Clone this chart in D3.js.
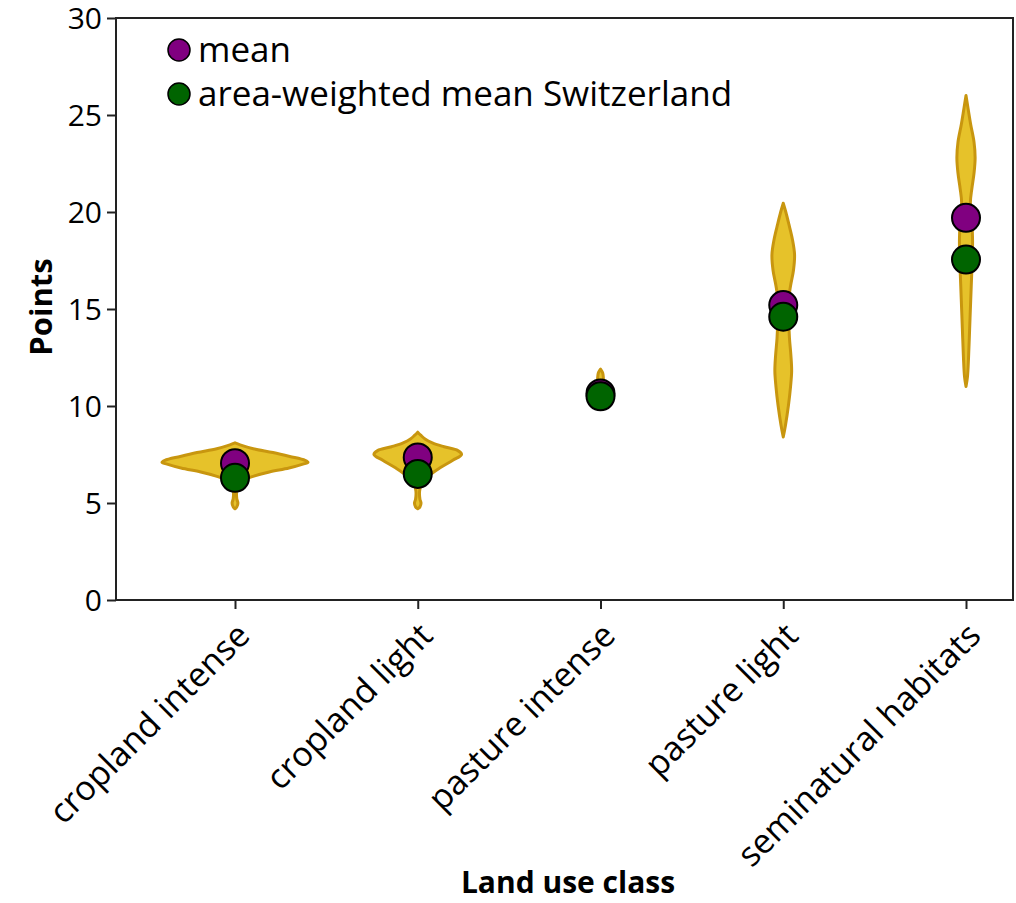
<!DOCTYPE html>
<html>
<head>
<meta charset="utf-8">
<script src="https://cdn.jsdelivr.net/npm/d3@7"></script>
<style>
  body { margin: 0; background: #fff; }
  text { font-family: "Open Sans", "Noto Sans", sans-serif; fill: #000; }
</style>
</head>
<body>
<div id="chart"></div>
<script>
// categories and summary values
var categories = ["cropland intense", "cropland light", "pasture intense", "pasture light", "seminatural habitats"];
var means = [7.05, 7.35, 10.65, 15.2, 19.7];
var weightedMeans = [6.3, 6.5, 10.5, 14.6, 17.55];
var yTicks = [0, 5, 10, 15, 20, 25, 30];

// violin outlines: [points, relative density] per class
var densCroplandIntense = [[4.7,0],[4.8,0.025],[5.0,0.04],[5.2,0.025],[5.5,0.02],[5.8,0.025],[6.0,0.05],[6.2,0.13],[6.4,0.27],[6.6,0.47],[6.8,0.74],[7.0,0.93],[7.1,1.0],[7.2,0.96],[7.4,0.75],[7.6,0.52],[7.8,0.25],[8.0,0.07],[8.1,0]];
var densCroplandLight = [[4.7,0],[4.8,0.03],[5.0,0.045],[5.2,0.03],[5.6,0.025],[6.0,0.05],[6.4,0.15],[6.8,0.3],[7.2,0.48],[7.5,0.6],[7.7,0.55],[7.9,0.36],[8.1,0.2],[8.3,0.1],[8.5,0.04],[8.65,0]];
var densPastureIntense = [[9.9,0],[10.2,0.04],[10.6,0.06],[11.0,0.05],[11.4,0.04],[11.7,0.03],[11.9,0]];
var densPastureLight = [[8.4,0],[9.0,0.03],[10.0,0.07],[11.0,0.1],[11.8,0.115],[12.6,0.105],[13.5,0.085],[14.5,0.075],[15.5,0.075],[16.2,0.1],[17.0,0.14],[17.8,0.155],[18.6,0.125],[19.4,0.075],[20.0,0.035],[20.45,0]];
var densSeminatural = [[11.0,0],[11.5,0.02],[12.5,0.035],[14.0,0.05],[15.5,0.065],[16.5,0.075],[17.5,0.085],[18.5,0.09],[19.5,0.08],[20.5,0.06],[21.2,0.08],[22.0,0.11],[22.8,0.125],[23.6,0.11],[24.5,0.065],[25.3,0.03],[26.0,0]];
var densities = [densCroplandIntense, densCroplandLight, densPastureIntense, densPastureLight, densSeminatural];

var width = 1016, height = 903;
var margin = {top: 18, left: 116, right: 3, bottom: 303};

var svg = d3.select("#chart").append("svg")
    .attr("width", width)
    .attr("height", height);

var xScale = d3.scalePoint()
    .domain(categories)
    .range([235, 966]);

var yScale = d3.scaleLinear()
    .domain([0, 30])
    .range([height - margin.bottom, margin.top]);

// half width of a violin in px for a given relative density
var wScale = d3.scaleLinear().domain([0, 1]).range([0, 73]);

// violins
var area = d3.area()
    .curve(d3.curveCatmullRom)
    .y(function(d) { return yScale(d[0]); });

svg.selectAll(".violin")
    .data(categories)
    .enter()
    .append("path")
    .attr("class", "violin")
    .attr("d", function(c, i) {
        var cx = xScale(c);
        return area
            .x0(function(d) { return cx - wScale(d[1]); })
            .x1(function(d) { return cx + wScale(d[1]); })(densities[i]);
    })
    .attr("fill", "#e6c22a")
    .attr("stroke", "#c8960f")
    .attr("stroke-width", 3)
    .attr("stroke-linejoin", "round");

// frame
svg.append("rect")
    .attr("x", margin.left)
    .attr("y", margin.top)
    .attr("width", width - margin.right - margin.left)
    .attr("height", height - margin.bottom - margin.top)
    .attr("fill", "none")
    .attr("stroke", "#222")
    .attr("stroke-width", 2);

// axes
var yAxis = svg.append("g")
    .attr("transform", `translate(${margin.left}, 0)`)
    .call(d3.axisLeft(yScale).tickValues(yTicks).tickSize(9).tickPadding(5));

var xAxis = svg.append("g")
    .attr("transform", `translate(0, ${height - margin.bottom})`)
    .call(d3.axisBottom(xScale).tickSize(9).tickPadding(6));

svg.selectAll(".domain").remove();
svg.selectAll(".tick line").attr("stroke", "#222").attr("stroke-width", 2);
yAxis.selectAll("text").attr("font-size", 30).attr("font-family", "Open Sans").attr("fill", "#000").attr("dy", "0.36em");
xAxis.selectAll("text")
    .attr("font-size", 34)
    .attr("font-family", "Open Sans")
    .attr("fill", "#000")
    .attr("text-anchor", "end")
    .attr("dy", 0)
    .attr("transform", "translate(0,10) rotate(-45) translate(-8, 16)");

// means
svg.selectAll(".mean")
    .data(categories)
    .enter()
    .append("circle")
    .attr("cx", function(c) { return xScale(c); })
    .attr("cy", function(c, i) { return yScale(means[i]); })
    .attr("r", 14)
    .attr("fill", "#800080")
    .attr("stroke", "#000")
    .attr("stroke-width", 2);

svg.selectAll(".wmean")
    .data(categories)
    .enter()
    .append("circle")
    .attr("cx", function(c) { return xScale(c); })
    .attr("cy", function(c, i) { return yScale(weightedMeans[i]); })
    .attr("r", 14)
    .attr("fill", "#006400")
    .attr("stroke", "#000")
    .attr("stroke-width", 2);

// legend
var legend = [{label: "mean", color: "#800080"}, {label: "area-weighted mean Switzerland", color: "#006400"}];
var lg = svg.selectAll(".legend")
    .data(legend)
    .enter()
    .append("g")
    .attr("transform", function(d, i) { return `translate(179, ${50 + i * 44})`; });
lg.append("circle")
    .attr("r", 11)
    .attr("fill", function(d) { return d.color; })
    .attr("stroke", "#000")
    .attr("stroke-width", 1.5);
lg.append("text")
    .attr("x", 19)
    .attr("y", 12)
    .attr("font-size", 35)
    .text(function(d) { return d.label; });

// axis titles
svg.append("text")
    .attr("transform", "rotate(-90)")
    .attr("x", -307)
    .attr("y", 52)
    .attr("text-anchor", "middle")
    .attr("font-size", 31)
    .attr("font-weight", "bold")
    .text("Points");

svg.append("text")
    .attr("x", 568)
    .attr("y", 893)
    .attr("text-anchor", "middle")
    .attr("font-size", 30)
    .attr("font-weight", "bold")
    .text("Land use class");
</script>
</body>
</html>
